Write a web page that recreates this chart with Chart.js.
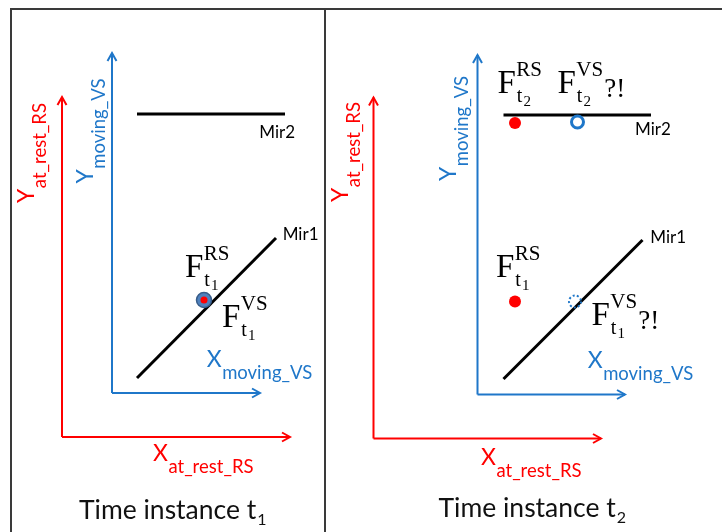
<!DOCTYPE html>
<html>
<head>
<meta charset="utf-8">
<script src="https://cdn.jsdelivr.net/npm/chart.js@4.4.0/dist/chart.umd.min.js"></script>
<style>
  body { margin: 0; background: #fff; }
  #wrap { position: relative; width: 722px; height: 532px; overflow: hidden; background: #fff; }
  .frame { position: absolute; background: #3a3a3a; }
  canvas { position: absolute; top: 10px; }
</style>
</head>
<body>
<div id="wrap">
  <div class="frame" style="left:10px;top:8px;width:2px;height:524px"></div>
  <div class="frame" style="left:10px;top:8px;width:712px;height:2px"></div>
  <div class="frame" style="left:324px;top:8px;width:2px;height:524px"></div>
  <canvas id="panelT1" width="312" height="522" style="left:12px"></canvas>
  <canvas id="panelT2" width="396" height="522" style="left:326px"></canvas>
</div>
<script>
const RED = '#ff0000';
const BLUE = '#1f77c9';

// everything is in units of the "at rest" frame (RS), origin at the red corner
// one entry per time instance: [t1, t2]
const timeIndex = ['1', '2'];
const rsAxisX = [228, 227.5];
const rsAxisY = [340, 341];
const vsOrigin = [[50, 44], [104, 44]];      // moving frame origin seen from RS
const vsAxisX = [148, 147.5];
const vsAxisY = [340, 339.5];
const mirror1 = [[[75, 59], [214, 199]], [[130, 59.5], [269, 198.5]]];
const mirror2 = [[[75, 323], [223, 323]], [[130, 323.5], [277.5, 323.5]]];
const featureRS = [[[142, 137]], [[141.5, 137], [141.5, 315.5]]];
const featureVS = [[[142, 137]], [[204, 316.5]]];
const featureVSlost = [[], [[201.5, 137]]];

// visible window of each panel (same units)
const viewX = [[-50, 262], [-47.5, 348.5]];
const viewY = [[-95, 427], [-93.5, 428.5]];

// text placed in the same units
const panelLabels = [
  [
    { type: 'axis', main: 'X', sub: 'at_rest_RS', color: RED, x: 91, y: -24 },
    { type: 'axis', main: 'X', sub: 'moving_VS', color: BLUE, x: 144.7, y: 70 },
    { type: 'axis', main: 'Y', sub: 'at_rest_RS', color: RED, x: -28, y: 234, rot: -90 },
    { type: 'axis', main: 'Y', sub: 'moving_VS', color: BLUE, x: 30.5, y: 253.5, rot: -90 },
    { type: 'mir', text: 'Mir2', x: 197.3, y: 298.7 },
    { type: 'mir', text: 'Mir1', x: 220.7, y: 197 },
    { type: 'term', sup: 'RS', n: '1', x: 123, y: 160 },
    { type: 'term', sup: 'VS', n: '1', x: 160, y: 110 },
    { type: 'caption', n: timeIndex[0], x: 17, y: -82 }
  ],
  [
    { type: 'axis', main: 'X', sub: 'at_rest_RS', color: RED, x: 107.5, y: -26 },
    { type: 'axis', main: 'X', sub: 'moving_VS', color: BLUE, x: 214.2, y: 70.5 },
    { type: 'axis', main: 'Y', sub: 'at_rest_RS', color: RED, x: -25.5, y: 236.5, rot: -90 },
    { type: 'axis', main: 'Y', sub: 'moving_VS', color: BLUE, x: 82, y: 257.5, rot: -90 },
    { type: 'mir', text: 'Mir2', x: 261.5, y: 303.5 },
    { type: 'mir', text: 'Mir1', x: 276.8, y: 195.2 },
    { type: 'term', sup: 'RS', n: '2', x: 124, y: 345.5 },
    { type: 'term', sup: 'VS', n: '2', tail: '?!', x: 184, y: 345.5 },
    { type: 'term', sup: 'RS', n: '1', x: 122.5, y: 162 },
    { type: 'term', sup: 'VS', n: '1', tail: '?!', x: 218, y: 113.5 },
    { type: 'caption', n: timeIndex[1], x: 65, y: -78.5 }
  ]
];

const SERIF = '"Liberation Serif", "Times New Roman", serif';
const SANS = 'Lato, "Open Sans", sans-serif';

function drawArrow(ctx, a, b, color) {
  const ang = Math.atan2(b.y - a.y, b.x - a.x);
  ctx.save();
  ctx.strokeStyle = color;
  ctx.lineWidth = 2;
  ctx.translate(b.x, b.y);
  ctx.rotate(ang);
  ctx.beginPath();
  ctx.moveTo(-8, -4.5);
  ctx.lineTo(0, 0);
  ctx.lineTo(-8, 4.5);
  ctx.stroke();
  ctx.restore();
}

function drawLabel(ctx, l, px, py) {
  ctx.save();
  ctx.translate(px, py);
  if (l.rot) ctx.rotate(l.rot * Math.PI / 180);
  ctx.fillStyle = l.color || '#000';
  ctx.textAlign = 'left';
  ctx.textBaseline = 'alphabetic';
  if (l.type === 'axis') {
    ctx.font = '23px ' + SANS;
    ctx.fillText(l.main, 0, 0);
    const w = ctx.measureText(l.main).width;
    ctx.font = '18.5px ' + SANS;
    ctx.fillText(l.sub, w + 0.5, 12);
  } else if (l.type === 'mir') {
    ctx.font = '17px ' + SANS;
    ctx.fillText(l.text, 0, 0);
  } else if (l.type === 'term') {
    ctx.font = '33px ' + SERIF;
    ctx.fillText('F', 0, 0);
    const w = ctx.measureText('F').width;
    ctx.font = '21px ' + SERIF;
    ctx.fillText(l.sup, w + 0.5, -17);
    const ws = ctx.measureText(l.sup).width;
    ctx.font = '20px ' + SERIF;
    ctx.fillText('t', w + 1, 9);
    const wt = ctx.measureText('t').width;
    ctx.font = '15px ' + SERIF;
    ctx.fillText(l.n, w + 2 + wt, 13);
    if (l.tail) {
      ctx.font = '27px ' + SERIF;
      ctx.fillText(l.tail, w + 1.5 + ws, 4);
    }
  } else if (l.type === 'caption') {
    ctx.fillStyle = '#111';
    ctx.font = '26.5px ' + SANS;
    ctx.fillText('Time instance t', 0, 0);
    const w = ctx.measureText('Time instance t').width;
    ctx.font = '16px ' + SANS;
    ctx.fillText(l.n, w + 1, 6);
  }
  ctx.restore();
}

const overlayPlugin = {
  id: 'overlay',
  afterDatasetsDraw(chart, args, opts) {
    const ctx = chart.ctx;
    const xs = chart.scales.x, ys = chart.scales.y;
    chart.data.datasets.forEach((ds, i) => {
      const pts = chart.getDatasetMeta(i).data;
      if (ds.arrow) drawArrow(ctx, pts[pts.length - 2], pts[pts.length - 1], ds.borderColor);
      if (ds.dotted) {
        pts.forEach(p => {
          ctx.save();
          ctx.setLineDash([2, 2.2]);
          ctx.strokeStyle = BLUE;
          ctx.lineWidth = 2;
          ctx.beginPath();
          ctx.arc(p.x, p.y, 6, 0, Math.PI * 2);
          ctx.stroke();
          ctx.restore();
        });
      }
    });
    opts.labels.forEach(l => drawLabel(ctx, l, xs.getPixelForValue(l.x), ys.getPixelForValue(l.y)));
  }
};

const toXY = pts => pts.map(([x, y]) => ({ x, y }));

function buildPanel(canvasId, k) {
  const o = vsOrigin[k];
  const datasets = [];
  const line = (pts, color, width, extra) => datasets.push(Object.assign({
    data: toXY(pts), showLine: true, borderColor: color, borderWidth: width,
    pointRadius: 0, fill: false, clip: false
  }, extra || {}));

  // markers first so they sit on top of the lines
  datasets.push({ data: toXY(featureRS[k]), pointRadius: k === 0 ? 3.5 : 6,
    backgroundColor: RED, borderWidth: 0, clip: false });
  if (k === 0) {
    datasets.push({ data: toXY(featureVS[k]), pointRadius: 7.5,
      backgroundColor: '#4f81bd', borderColor: '#385d8a', borderWidth: 1.5, clip: false });
  } else {
    datasets.push({ data: toXY(featureVS[k]), pointRadius: 6,
      backgroundColor: '#fff', borderColor: BLUE, borderWidth: 3, clip: false });
  }
  datasets.push({ data: toXY(featureVSlost[k]), pointRadius: 0, dotted: true, clip: false });

  line(mirror1[k], '#000', 3);
  line(mirror2[k], '#000', 3);
  line([[o[0], o[1]], [o[0], o[1] + vsAxisY[k]]], BLUE, 2, { arrow: true });
  line([[o[0], o[1]], [o[0] + vsAxisX[k], o[1]]], BLUE, 2, { arrow: true });
  line([[0, 0], [0, rsAxisY[k]]], RED, 2, { arrow: true });
  line([[0, 0], [rsAxisX[k], 0]], RED, 2, { arrow: true });

  return new Chart(document.getElementById(canvasId), {
    type: 'scatter',
    data: { datasets },
    options: {
      responsive: false,
      animation: false,
      events: [],
      layout: { padding: 0, autoPadding: false },
      scales: {
        x: { type: 'linear', min: viewX[k][0], max: viewX[k][1], display: false },
        y: { type: 'linear', min: viewY[k][0], max: viewY[k][1], display: false }
      },
      plugins: {
        legend: { display: false },
        tooltip: { enabled: false },
        overlay: { labels: panelLabels[k] }
      }
    },
    plugins: [overlayPlugin]
  });
}

buildPanel('panelT1', 0);
buildPanel('panelT2', 1);
</script>
</body>
</html>
